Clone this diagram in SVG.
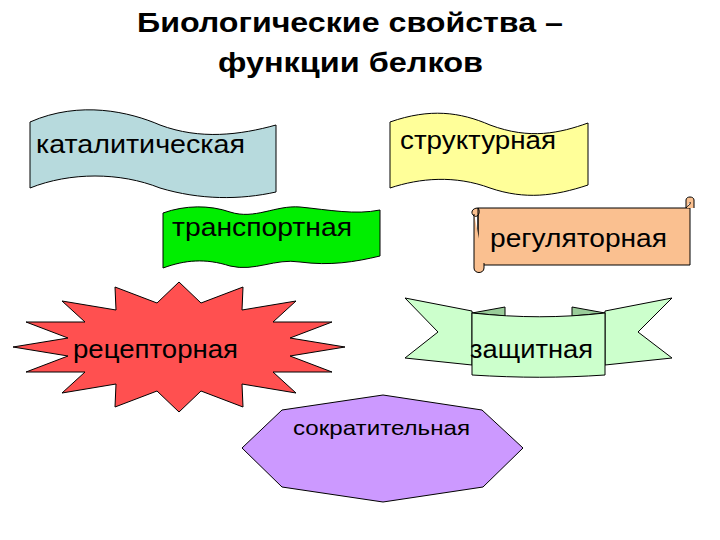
<svg xmlns="http://www.w3.org/2000/svg" width="720" height="540" viewBox="0 0 720 540">
<style>
text{font-family:"Liberation Sans",Arial,sans-serif;fill:#000}
.t{font-size:27px;font-weight:bold}
.l{font-size:25px}
.s{stroke:#000;stroke-width:1}
</style>
<rect width="720" height="540" fill="#fff"/>
<text class="t" x="137" y="32" textLength="426" lengthAdjust="spacingAndGlyphs">Биологические свойства –</text>
<text class="t" x="218" y="72" textLength="265" lengthAdjust="spacingAndGlyphs">функции белков</text>
<g id="catalytic">
<path class="s" fill="#b7dadd" d="M30,122 C80,100 130,112 160,125 C200,140 240,135 276,125 L276,192 C240,200 200,200 160,188 C120,172 70,172 30,188 Z"/>
<text class="l" x="36" y="153" textLength="209" lengthAdjust="spacingAndGlyphs">каталитическая</text>
</g>
<g id="structural">
<path class="s" fill="#ffff99" d="M390,122 C430,108 460,112 490,125 C530,140 560,133 588,123 L588,185 C555,196 525,200 490,188 C455,175 420,178 390,188 Z"/>
<text class="l" x="400" y="149" textLength="156" lengthAdjust="spacingAndGlyphs">структурная</text>
</g>
<g id="transport">
<path class="s" fill="#00ee00" d="M163,213 C185,205 210,205 230,212 C255,220 275,205 300,207 C330,210 355,215 380,210 L380,256 C355,262 330,266 300,262 C275,258 255,272 230,266 C205,258 185,260 163,268 Z"/>
<text class="l" x="172" y="236" textLength="180" lengthAdjust="spacingAndGlyphs">транспортная</text>
</g>
<g id="regulatory">
<path class="s" fill="#fac090" d="M478,208 L690,208 L690,265 L478,265 Z"/>
<path class="s" fill="#fac090" d="M478,208 C472,208 470,213 474,216 C478,218 481,212 478,208 Z M478,208 L478,262 M686,208 L686,200 C686,196 694,196 694,200 L694,208 M686,208 C688,205 691,205 690,202"/>
<path class="s" fill="#fac090" d="M474,214 L474,268 C474,274 484,274 484,268 L484,263"/>
<text class="l" x="490" y="247" textLength="177" lengthAdjust="spacingAndGlyphs">регуляторная</text>
</g>
<g id="receptor">
<polygon class="s" fill="#ff5050" points="345,347 290,356 332,372 273,372 296,393 242,384 243,407 201,391 179,412 157,391 115,407 116,384 62,393 85,372 26,372 68,356 13,347 68,338 26,322 85,322 62,301 116,310 115,287 157,303 179,282 201,303 243,287 242,310 296,301 273,322 332,322 290,338"/>
<text class="l" x="73" y="358" textLength="165" lengthAdjust="spacingAndGlyphs">рецепторная</text>
</g>
<g id="defense">
<polygon class="s" fill="#ccffcc" points="405,298 472,311 472,365 405,358 438,332"/>
<polygon class="s" fill="#ccffcc" points="672,298 605,311 605,365 672,358 638,332"/>
<polygon class="s" fill="#99cc99" points="472,313 505,307 505,316"/>
<polygon class="s" fill="#99cc99" points="605,313 572,307 572,316"/>
<path class="s" fill="#ccffcc" d="M472,313 C520,318 560,318 605,313 L605,375 C560,378 520,378 472,375 Z"/>
<text class="l" x="470" y="358" textLength="123" lengthAdjust="spacingAndGlyphs">защитная</text>
</g>
<g id="contractile">
<polygon class="s" fill="#cc99ff" points="383,395 482,410 523,448 483,487 383,502 282,487 242,448 282,410"/>
<text x="293" y="435" style="font-size:21px" textLength="177" lengthAdjust="spacingAndGlyphs">сократительная</text>
</g>
</svg>
